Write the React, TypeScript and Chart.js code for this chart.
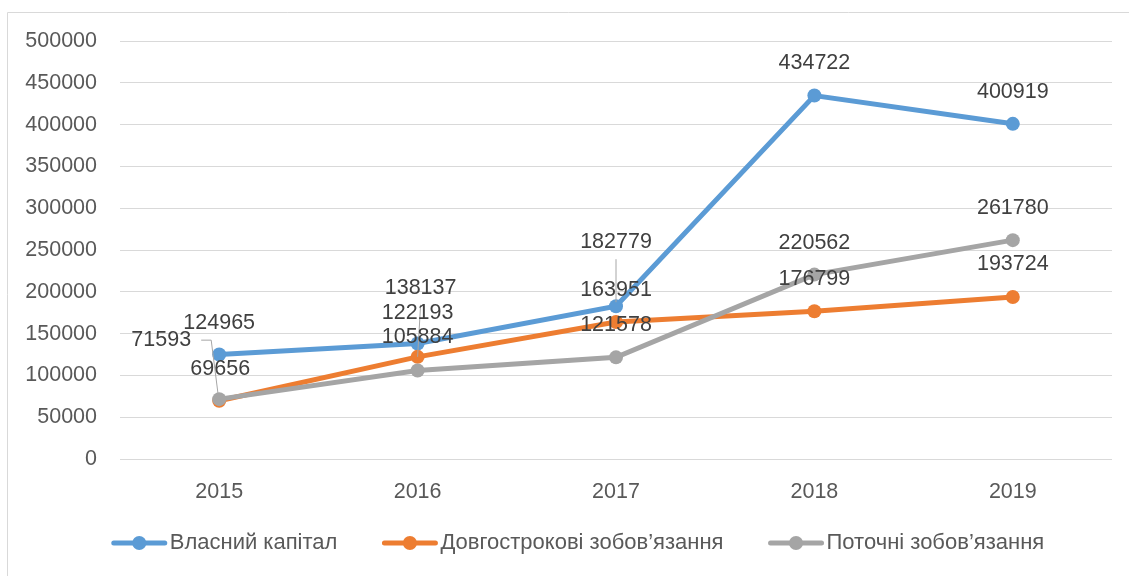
import React, { useEffect, useRef } from "react";
import { Chart, registerables } from "chart.js";

Chart.register(...registerables);

const categories = ["2015", "2016", "2017", "2018", "2019"];
const seriesNames = ["Власний капітал", "Довгострокові зобов\u2019язання", "Поточні зобов\u2019язання"];
const equity = [124965, 138137, 182779, 434722, 400919];
const longTerm = [69656, 122193, 163951, 176799, 193724];
const current = [71593, 105884, 121578, 220562, 261780];
const yMin = 0;
const yMax = 500000;
const yStep = 50000;

const colors = ["#5b9bd5", "#ed7d31", "#a5a5a5"];
const FONT = "'Liberation Sans', Arial, sans-serif";

// label placement (styling): text-centre offsets from each point, plus optional leader lines
const labelOffsets = [
  [[0, -31], [3, -55], [0, -64], [0, -32], [0, -32]],
  [[1, -32], [0, -44], [0, -32], [0, -32], [0, -33]],
  [[-58, -59], [0, -33], [0, -32], [0, -32], [0, -32]],
];
const leaders: Record<string, number[][]> = {
  "0-2": [[0, -47], [0, -4]],
  "1-1": [[3, -52], [0, 0]],
  "2-0": [[-18, -59], [-8, -59], [-1, -4]],
};

const labelPlugin = {
  id: "labels",
  afterDatasetsDraw(chart: any) {
    const ctx = chart.ctx;
    ctx.save();
    ctx.strokeStyle = "#a6a6a6";
    ctx.lineWidth = 1;
    chart.data.datasets.forEach((_: any, di: number) => {
      const meta = chart.getDatasetMeta(di);
      meta.data.forEach((pt: any, i: number) => {
        const l = leaders[`${di}-${i}`];
        if (!l) return;
        ctx.beginPath();
        l.forEach((o, k) => {
          const x = pt.x + o[0];
          const y = pt.y + o[1];
          if (k === 0) ctx.moveTo(x, y);
          else ctx.lineTo(x, y);
        });
        ctx.stroke();
      });
    });
    ctx.font = `21.5px ${FONT}`;
    ctx.fillStyle = "#404040";
    ctx.textAlign = "center";
    ctx.textBaseline = "middle";
    chart.data.datasets.forEach((ds: any, di: number) => {
      const meta = chart.getDatasetMeta(di);
      meta.data.forEach((pt: any, i: number) => {
        const o = labelOffsets[di][i];
        ctx.fillText(String(ds.data[i]), pt.x + o[0], pt.y + o[1]);
      });
    });
    ctx.restore();
  },
};

const legendPlugin = {
  id: "customLegend",
  beforeDraw(chart: any) {
    const ctx = chart.ctx;
    ctx.save();
    ctx.strokeStyle = "#d9d9d9";
    ctx.lineWidth = 1;
    ctx.beginPath();
    ctx.moveTo(7.5, chart.height);
    ctx.lineTo(7.5, 12.5);
    ctx.lineTo(chart.width, 12.5);
    ctx.stroke();
    ctx.restore();
  },
  afterDraw(chart: any) {
    const ctx = chart.ctx;
    ctx.save();
    ctx.font = `22px ${FONT}`;
    const lineW = 55;
    const gap = 3;
    const spacing = 45;
    const widths = seriesNames.map((n) => lineW + gap + ctx.measureText(n).width);
    const total = widths.reduce((a, b) => a + b, 0) + spacing * (widths.length - 1);
    let x = 578 - total / 2;
    const y = 543;
    seriesNames.forEach((n, i) => {
      ctx.strokeStyle = colors[i];
      ctx.lineWidth = 5;
      ctx.lineCap = "round";
      ctx.beginPath();
      ctx.moveTo(x + 2, y);
      ctx.lineTo(x + lineW - 2, y);
      ctx.stroke();
      ctx.fillStyle = colors[i];
      ctx.beginPath();
      ctx.arc(x + lineW / 2, y, 7, 0, Math.PI * 2);
      ctx.fill();
      ctx.fillStyle = "#595959";
      ctx.textAlign = "left";
      ctx.textBaseline = "middle";
      ctx.fillText(n, x + lineW + gap, y);
      x += widths[i] + spacing;
    });
    ctx.restore();
  },
};

export default function App() {
  const ref = useRef<HTMLCanvasElement | null>(null);
  useEffect(() => {
    if (!ref.current) return;
    const series = [equity, longTerm, current];
    const chart = new Chart(ref.current, {
      type: "line",
      data: {
        labels: categories,
        datasets: series.map((d, i) => ({
          label: seriesNames[i],
          data: d,
          borderColor: colors[i],
          backgroundColor: colors[i],
          borderWidth: 5,
          pointRadius: 7,
          pointHoverRadius: 7,
          pointBorderWidth: 0,
          pointBackgroundColor: colors[i],
          tension: 0,
          order: 3 - i,
        })),
      },
      options: {
        responsive: false,
        animation: false,
        layout: { padding: { left: 0, top: 41, right: 17, bottom: 77 } },
        plugins: { legend: { display: false }, tooltip: { enabled: false } },
        scales: {
          x: {
            offset: true,
            grid: { display: false, drawTicks: false },
            border: { display: false },
            ticks: { color: "#595959", font: { family: FONT, size: 21.5 }, padding: 20 },
            afterFit: (s: any) => {
              s.height = 40;
            },
          },
          y: {
            min: yMin,
            max: yMax,
            grid: { color: "#d9d9d9", lineWidth: 1, drawTicks: false },
            border: { display: false },
            ticks: {
              stepSize: yStep,
              color: "#595959",
              font: { family: FONT, size: 21.5 },
              padding: 23,
              callback: (v: any) => String(v),
            },
            afterFit: (s: any) => {
              s.width = 120;
            },
          },
        },
      },
      plugins: [labelPlugin, legendPlugin],
    });
    return () => chart.destroy();
  }, []);
  return (
    <div style={{ position: "fixed", left: 0, top: 0, width: 1129, height: 576, background: "#fff" }}>
      <canvas ref={ref} width={1129} height={576} />
    </div>
  );
}
